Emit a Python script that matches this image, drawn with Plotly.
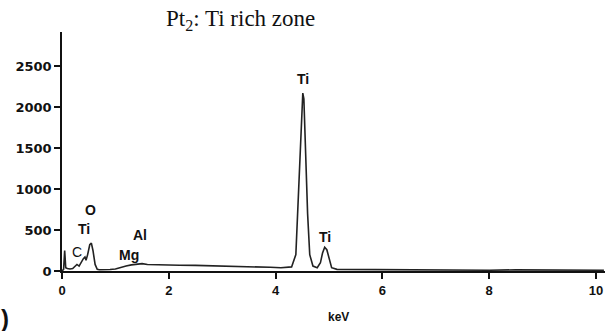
import plotly.graph_objects as go

# EDS spectrum, point Pt2 (Ti rich zone)
energy_kev = [0.00, 0.03, 0.05, 0.07, 0.10, 0.15, 0.20, 0.25, 0.28, 0.32, 0.36, 0.40,
              0.43, 0.45, 0.48, 0.52, 0.55, 0.58, 0.62, 0.66, 0.70, 0.80, 0.90, 1.00,
              1.10, 1.20, 1.30, 1.40, 1.50, 1.60, 1.80, 2.00, 2.20, 2.50, 2.80, 3.00,
              3.30, 3.60, 3.90, 4.10, 4.30, 4.38, 4.42, 4.46, 4.49, 4.51, 4.53, 4.56,
              4.60, 4.64, 4.70, 4.78, 4.84, 4.88, 4.92, 4.96, 5.00, 5.05, 5.15, 5.50,
              6.00, 6.50, 7.00, 7.50, 8.00, 8.50, 9.00, 9.50, 10.00, 10.15]
counts = [0, 20, 250, 40, 30, 25, 30, 70, 80, 60, 110, 150,
          170, 130, 200, 320, 340, 250, 80, 20, 15, 15, 18, 25,
          45, 60, 75, 85, 90, 80, 75, 72, 70, 68, 65, 62,
          58, 50, 45, 40, 50, 200, 800, 1500, 2000, 2170, 2100, 1500,
          700, 200, 60, 40, 100, 220, 290, 260, 150, 40, 20, 18,
          15, 18, 14, 12, 10, 14, 12, 14, 12, 10]

# peak labels: (text, keV, counts, bold)
peak_labels = [("Ti", 4.51, 2340, True), ("Ti", 4.93, 410, True),
               ("O", 0.53, 745, True), ("Ti", 0.42, 510, True),
               ("C", 0.28, 230, False), ("Al", 1.47, 440, True),
               ("Mg", 1.26, 190, True)]

x_ticks = [0, 2, 4, 6, 8, 10]
y_ticks = [0, 500, 1000, 1500, 2000, 2500]

L, R, T, B = 62, 5, 32, 60
W, H = 610, 331
pw, ph = W - L - R, H - T - B


def px_to_paper(xp, yp):
    """Pixel position (from top-left of the page) to paper coordinates."""
    return (xp - L) / pw, ((H - yp) - B) / ph


fig = go.Figure()
fig.add_trace(go.Scatter(x=energy_kev, y=counts, mode="lines",
                         line=dict(color="#222222", width=1.6),
                         hoverinfo="skip", showlegend=False))

for text, xv, yv, bold in peak_labels:
    fig.add_annotation(x=xv, y=yv, xref="x", yref="y", text=text, showarrow=False,
                       xanchor="center", yanchor="middle",
                       font=dict(family="Liberation Sans", size=14, color="#111111",
                                 weight="bold" if bold else "normal"))

tx, ty = px_to_paper(240, 20)
fig.add_annotation(x=tx, y=ty, xref="paper", yref="paper", text="Pt<sub>2</sub>: Ti rich zone",
                   showarrow=False, xanchor="center", yanchor="middle",
                   font=dict(family="Liberation Serif", size=23, color="#111111"))
kx, ky = px_to_paper(338, 317)
fig.add_annotation(text="keV", x=kx, y=ky, xref="paper", yref="paper", showarrow=False,
                   xanchor="center", yanchor="middle",
                   font=dict(family="Liberation Sans", size=12, color="#111111", weight="bold"))
bx, by = px_to_paper(-1, 318)
fig.add_annotation(text=")", x=bx, y=by, xref="paper", yref="paper", showarrow=False,
                   xanchor="left", yanchor="middle",
                   font=dict(family="Liberation Sans", size=24, color="#111111", weight="bold"))

fig.update_xaxes(range=[0, 10.17], tickvals=x_ticks, ticks="outside", ticklen=6, tickwidth=1.5,
                 tickcolor="#111111", showline=True, linecolor="#111111", linewidth=2,
                 showgrid=False, zeroline=False,
                 tickfont=dict(family="Liberation Sans", size=13, color="#111111", weight="bold"))
fig.update_yaxes(range=[0, 2915], tickvals=y_ticks, ticks="outside", ticklen=6, tickwidth=1.5,
                 tickcolor="#111111", showline=True, linecolor="#111111", linewidth=1.5,
                 showgrid=False, zeroline=False,
                 tickfont=dict(family="DejaVu Sans", size=13, color="#111111", weight="bold"))

fig.update_layout(width=W, height=H, margin=dict(l=L, r=R, t=T, b=B),
                  plot_bgcolor="white", paper_bgcolor="white")

fig.write_html("out.html")
